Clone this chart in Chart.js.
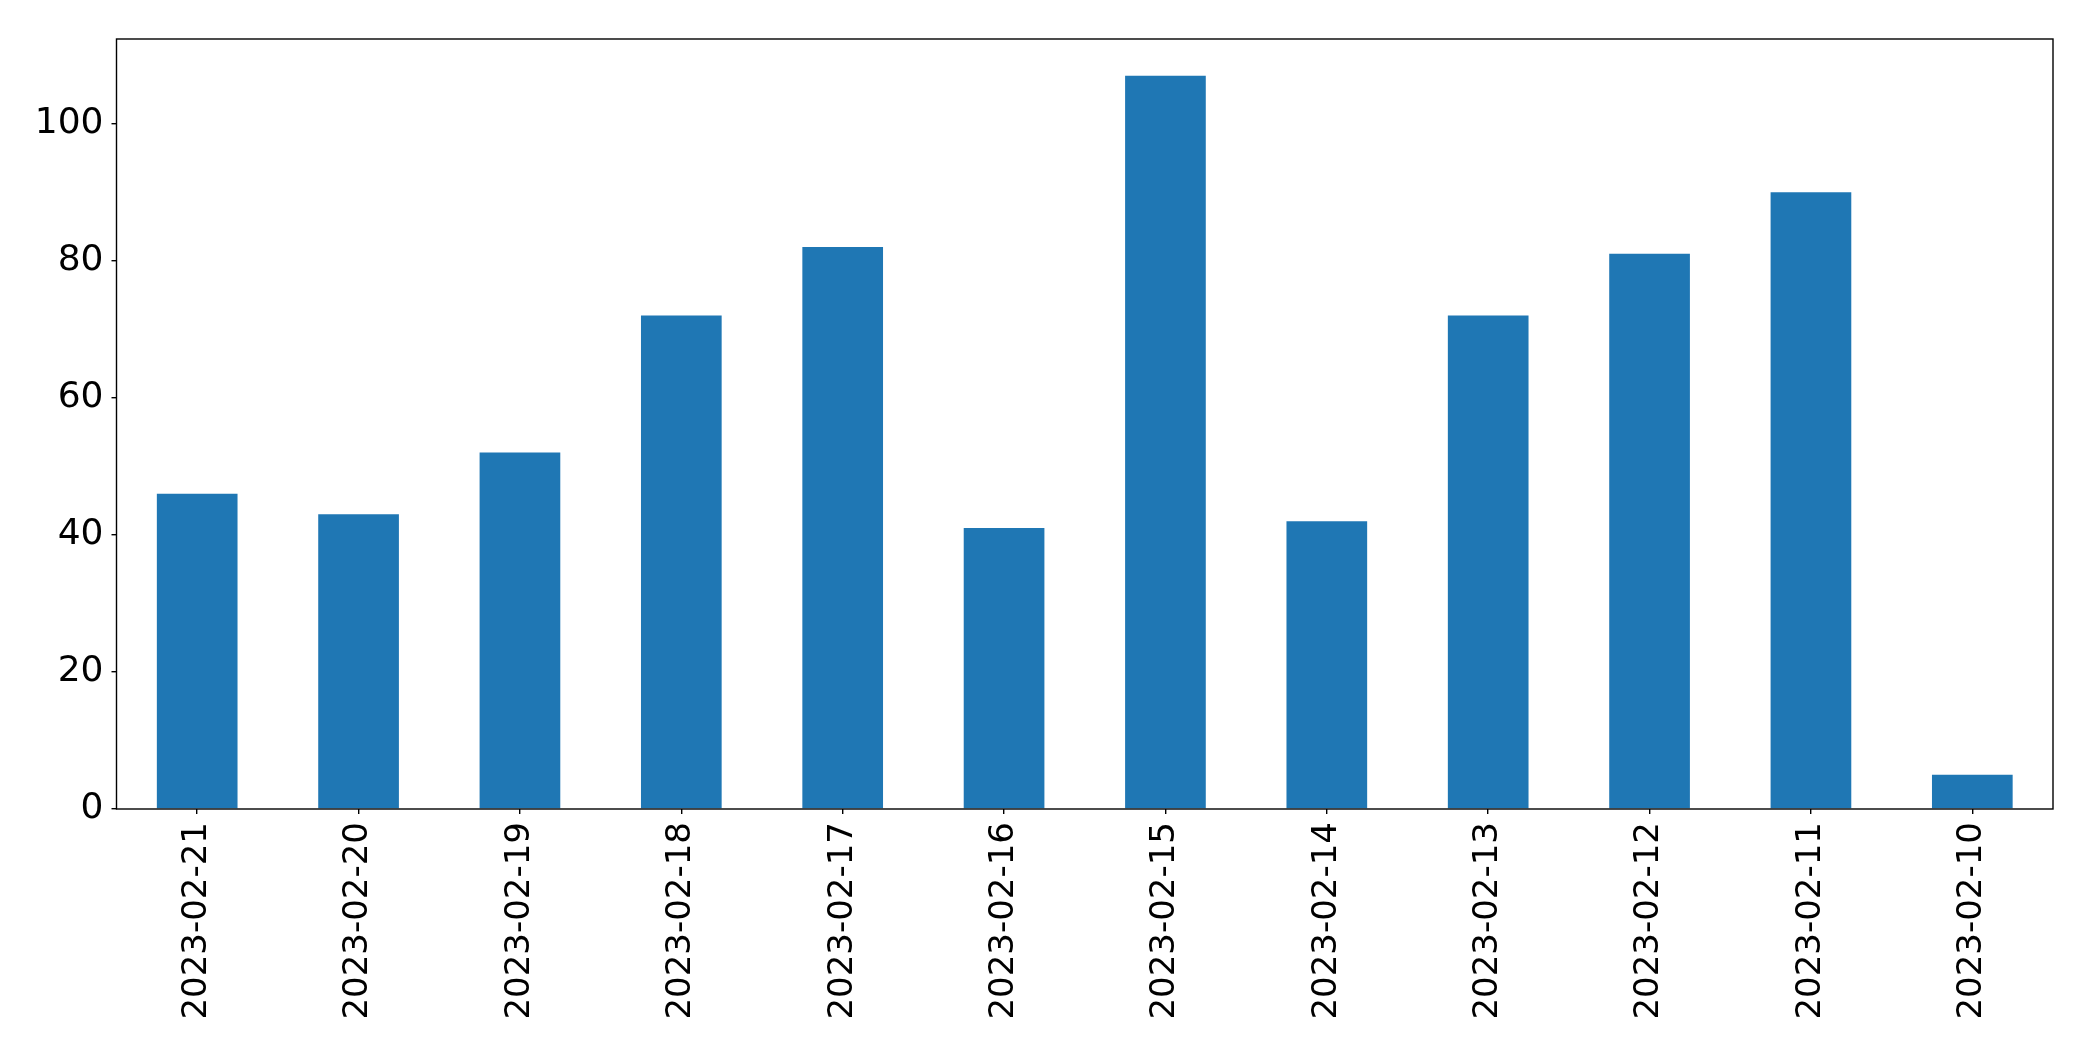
<!DOCTYPE html>
<html>
<head>
<meta charset="utf-8">
<script src="https://cdn.jsdelivr.net/npm/chart.js@4/dist/chart.umd.min.js"></script>
<style>
  html, body { margin: 0; padding: 0; background: #ffffff; }
  #wrap { width: 2093px; height: 1061px; position: relative; }
</style>
</head>
<body>
<div id="wrap"><canvas id="c" width="2093" height="1061"></canvas></div>
<script>
const categories = ["2023-02-21","2023-02-20","2023-02-19","2023-02-18","2023-02-17","2023-02-16","2023-02-15","2023-02-14","2023-02-13","2023-02-12","2023-02-11","2023-02-10"];
const values = [46, 43, 52, 72, 82, 41, 107, 42, 72, 81, 90, 5];
const yTickValues = [0, 20, 40, 60, 80, 100];

const yMax = Math.max(...values) * 1.05;

const frame = {
  id: 'frame',
  afterDraw(chart) {
    const a = chart.chartArea, ctx = chart.ctx;
    ctx.save();
    ctx.strokeStyle = '#000';
    ctx.lineWidth = 1.4;
    ctx.strokeRect(a.left, a.top, a.right - a.left, a.bottom - a.top);
    ctx.restore();
  }
};

new Chart(document.getElementById('c'), {
  type: 'bar',
  data: {
    labels: categories,
    datasets: [{
      data: values,
      backgroundColor: '#1f77b4',
      borderWidth: 0,
      barPercentage: 0.5,
      categoryPercentage: 1.0
    }]
  },
  options: {
    responsive: false,
    animation: false,
    devicePixelRatio: 1,
    layout: { padding: { top: 39, right: 40, left: 0, bottom: 0 } },
    plugins: { legend: { display: false }, tooltip: { enabled: false } },
    scales: {
      x: {
        offset: true,
        grid: { display: true, drawOnChartArea: false, drawTicks: true, tickLength: 5, tickColor: '#000', lineWidth: 1.4, offset: false },
        border: { display: false },
        ticks: {
          color: '#000',
          font: { family: 'DejaVu Sans', size: 34 },
          minRotation: 90, maxRotation: 90,
          autoSkip: false,
          padding: 8
        },
        afterFit(s) { s.height = 252; }
      },
      y: {
        min: 0,
        max: yMax,
        grid: { display: true, drawOnChartArea: false, drawTicks: true, tickLength: 5, tickColor: '#000', lineWidth: 1.4 },
        border: { display: false },
        ticks: {
          color: '#000',
          font: { family: 'DejaVu Sans', size: 36 },
          stepSize: 20,
          padding: 8
        },
        afterBuildTicks(s) { s.ticks = yTickValues.map(v => ({ value: v })); },
        afterFit(s) { s.width = 116.5; }
      }
    }
  },
  plugins: [frame]
});
</script>
</body>
</html>
